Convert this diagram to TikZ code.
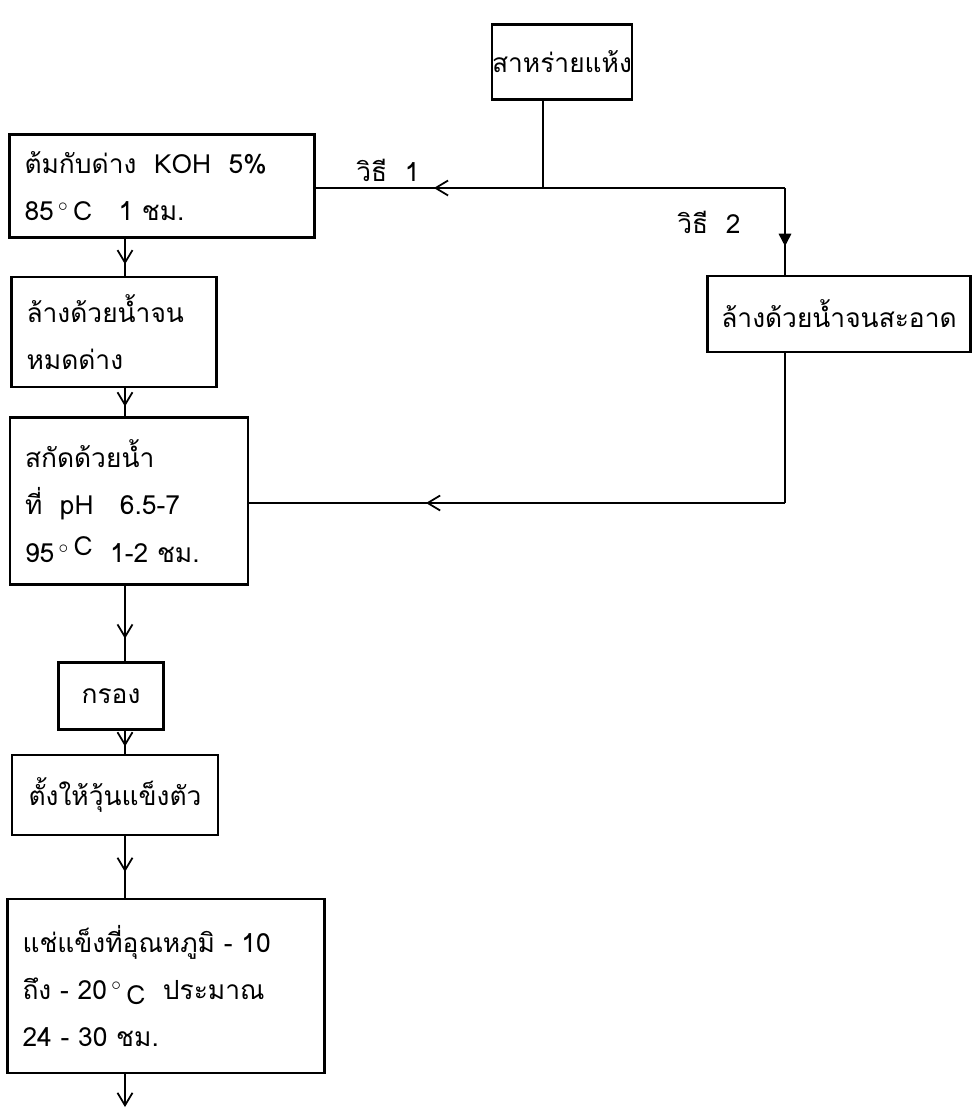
\documentclass[tikz,border=0pt]{standalone}
\usepackage{fontspec}
\setmainfont[Script=Thai]{Loma}
\usetikzlibrary{arrows.meta, decorations.markings}

\begin{document}
\begin{tikzpicture}[
x=0.02cm, y=-0.02cm,
box/.style={rectangle, draw=black, line width=1.3pt, align=left,
  inner xsep=0.3cm, inner ysep=0pt, font=\fontsize{15}{27}\selectfont},
cbox/.style={box, align=center, inner xsep=0pt},
flow/.style={line width=1pt},
tip/.style={-{Straight Barb[length=2.5mm, width=3mm]}},
midarrow/.style={postaction={decorate}, decoration={markings,
  mark=at position #1 with {\arrow{Straight Barb[length=2.5mm, width=3mm]}}}},
midfill/.style={postaction={decorate}, decoration={markings,
  mark=at position #1 with {\arrow{Triangle[length=2.5mm, width=2.5mm]}}}},
way/.style={font=\fontsize{15}{18}\selectfont}
]
\useasboundingbox (0,0) rectangle (973,1109);

% boxes
\node[cbox, minimum width=2.5cm, minimum height=1.5cm] (dry) at (562,62) {สาหร่ายแห้ง};
\node[box, text width=5.5cm, minimum height=2.06cm] (boil) at (162,186)
  {ต้มกับด่าง\ \ KOH\ \ 5\% \\ 85\,$^{\circ}$\,C\quad 1\ ชม.};
\node[box, text width=3.5cm, minimum height=2.2cm] (washa) at (114,332)
  {ล้างด้วยน้ำจน \\ หมดด่าง};
\node[box, text width=4.16cm, minimum height=3.34cm] (extract) at (129,501)
  {สกัดด้วยน้ำ \\ ที่\ \ pH\ \ \ 6.5-7 \\ 95\,$^{\circ}$\,\raisebox{0.5ex}{C}\ \ 1-2\ ชม.};
\node[cbox, minimum width=2.1cm, minimum height=1.34cm] (filt) at (111,696) {กรอง};
\node[cbox, minimum width=4.12cm, minimum height=1.6cm] (set) at (115,795) {ตั้งให้วุ้นแข็งตัว};
\node[box, text width=5.74cm, minimum height=3.48cm] (freeze) at (166,986)
  {แช่แข็งที่อุณหภูมิ\ -\ 10 \\ ถึง\ -\ 20\,$^{\circ}$\,\raisebox{-0.4ex}{C}\ \ ประมาณ \\ 24\ -\ 30\ ชม.};
\node[cbox, minimum width=5.26cm, minimum height=1.52cm] (washb) at (839,314) {ล้างด้วยน้ำจนสะอาด};

% labels
\node[way] (way1) at (388,170) {วิธี\ \ 1};
\node[way] (way2) at (709,222) {วิธี\ \ 2};

% joints
\coordinate (split) at (543,188);
\coordinate (turn) at (785,188);
\coordinate (back) at (785,503);
\coordinate (spine) at (125,0);
\coordinate (out) at (125,1107);

% connectors
\draw[flow] (split |- dry.south) -- (split);
\draw[flow, midarrow=0.48] (split) -- (split -| boil.east);
\draw[flow] (split) -- (turn);
\draw[flow, midfill=0.67] (turn) -- (turn |- washb.north);
\draw[flow] (turn |- washb.south) -- (back);
\draw[flow, midarrow=0.67] (back) -- (back -| extract.east);

\draw[flow, midarrow=0.69] (boil.south -| spine) -- (washa.north -| spine);
\draw[flow, midarrow=0.65] (washa.south -| spine) -- (extract.north -| spine);
\draw[flow, midarrow=0.7] (extract.south -| spine) -- (filt.north -| spine);
\draw[flow, midarrow=0.68] (filt.south -| spine) -- (set.north -| spine);
\draw[flow, midarrow=0.58] (set.south -| spine) -- (freeze.north -| spine);
\draw[flow, tip] (freeze.south -| spine) -- (out);

\end{tikzpicture}
\end{document}
